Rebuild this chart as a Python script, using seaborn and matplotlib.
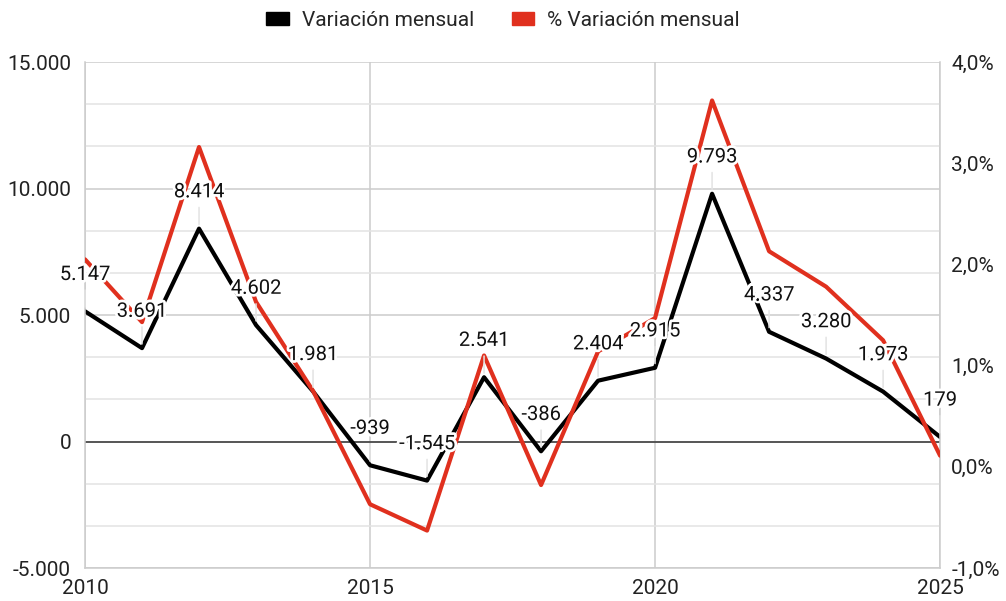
import matplotlib
matplotlib.use("Agg")
import matplotlib.pyplot as plt
import matplotlib.patheffects as pe
from matplotlib.patches import Patch
from matplotlib.ticker import FuncFormatter, MultipleLocator
import seaborn as sns
import pandas as pd

years = list(range(2010, 2026))
variacion = [5147, 3691, 8414, 4602, 1981, -939, -1545, 2541, -386, 2404, 2915, 9793, 4337, 3280, 1973, 179]
pct_variacion = [2.05, 1.43, 3.16, 1.63, 0.75, -0.37, -0.63, 1.10, -0.18, 1.14, 1.47, 3.62, 2.13, 1.78, 1.25, 0.11]
legend_labels = ["Variación mensual", "% Variación mensual"]

df = pd.DataFrame({"year": years, "var": variacion, "pct": pct_variacion})

sns.set_style("white")
plt.rcParams["font.family"] = ["Roboto", "DejaVu Sans"]

BLACK = "#000000"
RED = "#e0301e"
FS = 14.5
FS_AX = 15

fig = plt.figure(figsize=(10.06, 6.01), dpi=100)
ax = fig.add_axes([0.0845, 0.0549, 0.8500, 0.8419])
ax2 = ax.twinx()

# grid
ax.set_xlim(2010, 2025)
ax.set_ylim(-5000, 15000)
ax.yaxis.set_major_locator(MultipleLocator(5000))
ax.yaxis.set_minor_locator(MultipleLocator(5000 / 3))
ax.xaxis.set_major_locator(MultipleLocator(5))
ax.grid(True, which="major", color="#cccccc", lw=1.1)
ax.grid(True, which="minor", axis="y", color="#e3e3e3", lw=1.1)
ax.set_axisbelow(True)
ax.axhline(0, color="#333333", lw=1.1, zorder=1)

ax2.set_ylim(-1.0, 4.0)
ax2.yaxis.set_major_locator(MultipleLocator(1.0))
ax2.grid(False)

sns.lineplot(data=df, x="year", y="var", ax=ax, color=BLACK, lw=3, zorder=3)
sns.lineplot(data=df, x="year", y="pct", ax=ax2, color=RED, lw=3, zorder=3)

ax.set_xlabel("")
ax.set_ylabel("")
ax2.set_ylabel("")

ax.yaxis.set_major_formatter(FuncFormatter(lambda v, p: f"{int(v):,}".replace(",", ".")))
ax2.yaxis.set_major_formatter(FuncFormatter(lambda v, p: f"{v:.1f}%".replace(".", ",")))
ax.xaxis.set_major_formatter(FuncFormatter(lambda v, p: f"{int(v)}"))

for a in (ax, ax2):
    a.tick_params(axis="both", which="both", length=0, labelsize=FS_AX, colors="#222222")
    for s in a.spines.values():
        s.set_visible(False)
ax.tick_params(axis="y", pad=10)
ax.tick_params(axis="x", pad=8)
ax2.tick_params(axis="y", pad=8)
for side in ("left", "right", "bottom"):
    ax2.spines[side].set_visible(True)
    ax2.spines[side].set_color("#cccccc")
    ax2.spines[side].set_linewidth(1.1)

# data labels with leader lines
for x, y in zip(years, variacion):
    ax2.annotate(f"{y:,}".replace(",", "."), xy=(x, y), xycoords=ax.transData,
                 xytext=(0, 26.5), textcoords="offset points",
                 ha="center", va="center", fontsize=FS, color="#111111",
                 annotation_clip=False, zorder=6,
                 path_effects=[pe.withStroke(linewidth=4, foreground="white")],
                 arrowprops=dict(arrowstyle="-", color="#e3e3e3", lw=1.1,
                                 shrinkA=2, shrinkB=3))

handles = [Patch(facecolor=BLACK, edgecolor=BLACK), Patch(facecolor=RED, edgecolor=RED)]
fig.legend(handles, legend_labels, loc="upper center", bbox_to_anchor=(0.5, 1.013),
           ncol=2, frameon=False, fontsize=FS_AX, handlelength=1.1, handleheight=0.55,
           handletextpad=0.6, columnspacing=1.8)

fig.savefig("out.png", dpi=100)
